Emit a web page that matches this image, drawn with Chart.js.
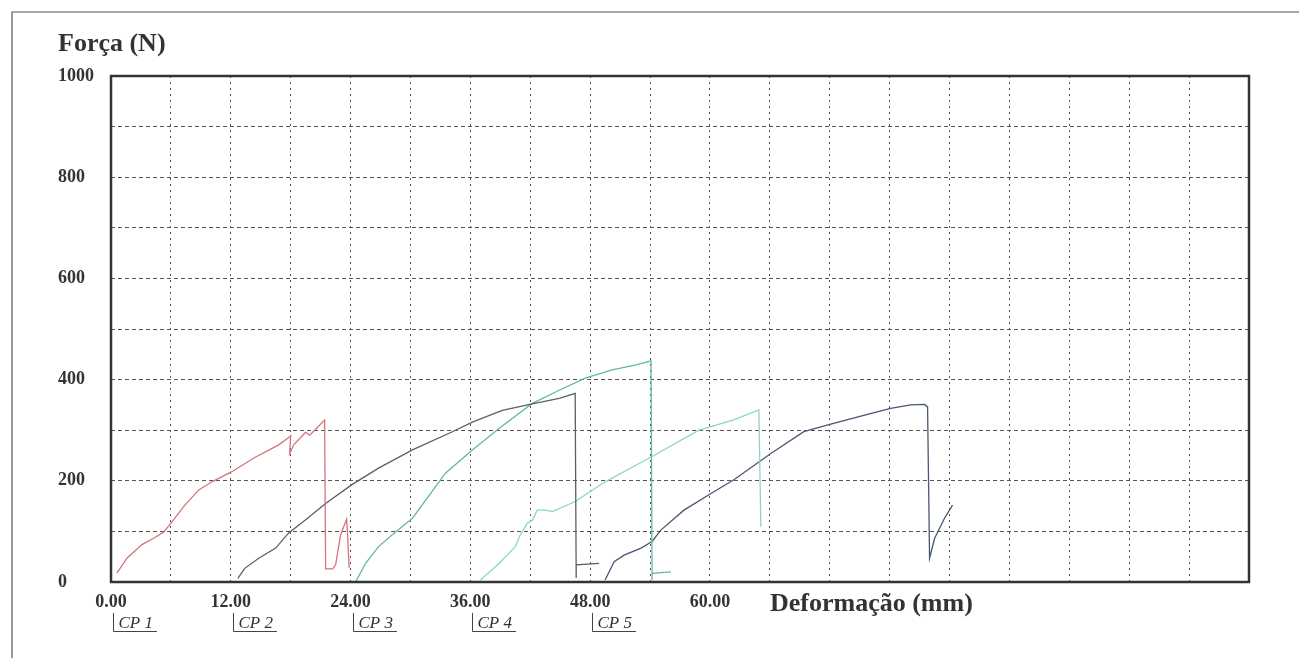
<!DOCTYPE html>
<html>
<head>
<meta charset="utf-8">
<script src="https://cdn.jsdelivr.net/npm/chart.js@4/dist/chart.umd.min.js"></script>
<style>
  html, body { margin: 0; padding: 0; background: #fff; }
</style>
</head>
<body>
<canvas id="myChart" width="1299" height="658"></canvas>
<script>
// Ensaios de tração - força x deformação, 5 corpos de prova
const cpLabels = ['CP 1', 'CP 2', 'CP 3', 'CP 4', 'CP 5'];
const cpOffsets = [0, 12, 24, 36, 48]; // origem de cada CP no eixo (mm)
const cpColors = ['#d4737a', '#56606a', '#62b8a0', '#8fd3cc', '#4a5675'];

const xTickLabels = ['0.00', '12.00', '24.00', '36.00', '48.00', '60.00'];
const yTickLabels = ['0', '200', '400', '600', '800', '1000'];

const cp1X = [0.6, 1.6, 3.1, 4.4, 5.3, 6.1, 7.4, 8.8, 10.1, 12.1, 14.4, 16.8, 17.7, 18.0, 17.9, 18.3, 19.5, 19.9, 20.3, 21.4, 21.5, 22.2, 22.5, 23.0, 23.6, 23.7, 23.85];
const cp1Y = [18, 47, 74, 88, 99, 119, 152, 182, 198, 218, 246, 271, 284, 289, 254, 271, 296, 290, 298, 320, 26, 26, 34, 93, 124, 93, 28];

const cp2X = [12.7, 13.4, 14.8, 16.5, 17.8, 19.5, 21.5, 24.1, 26.8, 30.2, 34.2, 36.2, 39.2, 42.2, 44.9, 46.5, 46.6, 46.6, 48.9];
const cp2Y = [7, 27, 47, 67, 97, 123, 155, 192, 225, 261, 297, 316, 339, 352, 363, 373, 8, 34, 37];

const cp3X = [24.5, 25.5, 26.8, 28.5, 30.2, 31.8, 33.5, 36.2, 38.9, 42.2, 44.9, 47.5, 50.2, 52.6, 54.1, 54.2, 54.2, 56.1];
const cp3Y = [0, 37, 70, 99, 126, 169, 215, 261, 304, 353, 379, 403, 419, 429, 437, 4, 17, 20];

const cp4X = [37.0, 38.9, 40.5, 41.0, 41.7, 42.2, 42.7, 43.5, 44.2, 46.5, 49.5, 54.2, 58.9, 62.3, 64.9, 65.1];
const cp4Y = [4, 37, 70, 93, 116, 122, 142, 142, 139, 159, 198, 248, 300, 320, 340, 109];

const cp5X = [49.5, 50.4, 51.4, 53.1, 54.2, 55.1, 57.4, 60.1, 62.4, 66.1, 69.4, 72.1, 75.5, 78.1, 80.1, 81.5, 81.8, 82.0, 82.5, 83.5, 84.3];
const cp5Y = [4, 40, 53, 67, 80, 103, 142, 175, 202, 254, 297, 312, 330, 343, 350, 351, 346, 47, 86, 126, 152];

const seriesX = [cp1X, cp2X, cp3X, cp4X, cp5X];
const seriesY = [cp1Y, cp2Y, cp3Y, cp4Y, cp5Y];

const serif = '"Liberation Serif", "Times New Roman", serif';

function toPoints(xs, ys) {
    return xs.map((x, i) => ({ x: x, y: ys[i] }));
}

const datasets = cpLabels.map((label, i) => ({
    label: label,
    data: toPoints(seriesX[i], seriesY[i]),
    borderColor: cpColors[i],
    borderWidth: 1.3,
    pointRadius: 0,
    tension: 0,
    fill: false
}));

// moldura, títulos dos eixos e marcas dos CPs
const decorations = {
    id: 'decorations',
    afterDatasetsDraw(chart) {
        const { ctx, chartArea } = chart;
        ctx.save();
        ctx.strokeStyle = '#333';
        ctx.lineWidth = 2.5;
        ctx.strokeRect(chartArea.left, chartArea.top, chartArea.right - chartArea.left, chartArea.bottom - chartArea.top);
        ctx.restore();
    },
    afterDraw(chart) {
        const { ctx } = chart;
        const xScale = chart.scales.x;
        ctx.save();

        // borda da folha
        ctx.strokeStyle = '#555';
        ctx.lineWidth = 1.2;
        ctx.beginPath();
        ctx.moveTo(12, 658);
        ctx.lineTo(12, 12);
        ctx.lineTo(1299, 12);
        ctx.stroke();

        ctx.fillStyle = '#333';
        ctx.textBaseline = 'alphabetic';
        ctx.textAlign = 'left';
        ctx.font = 'bold 26px ' + serif;
        ctx.fillText('Força (N)', 58, 51);
        ctx.fillText('Deformação (mm)', 770, 611);

        ctx.font = 'italic 17px ' + serif;
        ctx.strokeStyle = '#444';
        ctx.lineWidth = 1;
        cpLabels.forEach((label, i) => {
            const px = Math.round(xScale.getPixelForValue(cpOffsets[i])) + 2.5;
            const w = ctx.measureText(label).width;
            ctx.fillText(label, px + 5, 628);
            ctx.beginPath();
            ctx.moveTo(px, 613);
            ctx.lineTo(px, 631.5);
            ctx.lineTo(px + w + 9, 631.5);
            ctx.stroke();
        });
        ctx.restore();
    }
};

const ctx = document.getElementById('myChart').getContext('2d');
const myChart = new Chart(ctx, {
    type: 'line',
    data: { datasets: datasets },
    options: {
        responsive: false,
        animation: false,
        layout: { padding: { left: 58, top: 76, right: 50, bottom: 0 } },
        plugins: {
            legend: { display: false },
            tooltip: { enabled: false }
        },
        scales: {
            x: {
                type: 'linear',
                min: 0,
                max: 114,
                afterFit: (scale) => { scale.height = 76; },
                grid: { color: '#555', lineWidth: 1, drawTicks: false },
                border: { display: false, dash: [2, 4] },
                ticks: {
                    stepSize: 6,
                    autoSkip: false,
                    maxRotation: 0,
                    padding: 10,
                    color: '#333',
                    font: { family: serif, size: 18, weight: 'bold' },
                    callback: (v) => xTickLabels[v / 12] !== undefined && v % 12 === 0 ? xTickLabels[v / 12] : ''
                }
            },
            y: {
                min: 0,
                max: 1000,
                afterFit: (scale) => { scale.width = 53; },
                grid: { color: '#555', lineWidth: 1, drawTicks: false },
                border: { display: false, dash: [4, 3] },
                ticks: {
                    stepSize: 100,
                    autoSkip: false,
                    crossAlign: 'far',
                    color: '#333',
                    font: { family: serif, size: 18, weight: 'bold' },
                    callback: (v) => v % 200 === 0 ? yTickLabels[v / 200] : ''
                }
            }
        }
    },
    plugins: [decorations]
});
</script>
</body>
</html>
